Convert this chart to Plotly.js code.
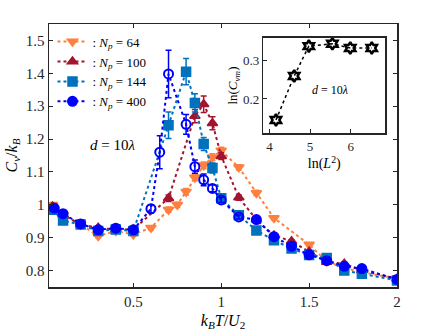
<!DOCTYPE html>
<html>
<head>
<meta charset="utf-8">
<script src="https://cdn.plot.ly/plotly-3.0.1.min.js"></script>
<style>
  html, body { margin: 0; padding: 0; background: #fff; }
  #chart { width: 441px; height: 331px; }
</style>
</head>
<body>
<div id="chart"></div>
<script>
// N_p = 64
const t64 = [0.04, 0.1, 0.2, 0.3, 0.4, 0.5, 0.6, 0.7, 0.75, 0.8, 0.85, 0.9, 0.95, 1.0, 1.1, 1.2, 1.3, 1.5, 1.6, 1.7, 1.8, 2.0];
const c64 = [1.0, 0.97, 0.94, 0.905, 0.92, 0.91, 0.93, 0.985, 1.0, 1.04, 1.083, 1.12, 1.145, 1.165, 1.114, 1.036, 0.96, 0.879, 0.828, 0.808, 0.795, 0.776];
const e64 = [0.005, 0.005, 0.005, 0.005, 0.005, 0.005, 0.006, 0.008, 0.008, 0.01, 0.01, 0.01, 0.01, 0.01, 0.008, 0.008, 0.006, 0.005, 0.005, 0.005, 0.005, 0.005];

// N_p = 100
const t100 = [0.04, 0.1, 0.2, 0.3, 0.4, 0.5, 0.7, 0.85, 0.9, 0.95, 1.0, 1.1, 1.2, 1.3, 1.4, 1.5, 1.6, 1.7, 1.8, 2.0];
const c100 = [0.995, 0.97, 0.94, 0.93, 0.925, 0.925, 1.02, 1.27, 1.306, 1.248, 1.148, 1.022, 0.955, 0.907, 0.889, 0.857, 0.826, 0.821, 0.8, 0.775];
const e100 = [0.005, 0.005, 0.005, 0.005, 0.005, 0.005, 0.01, 0.02, 0.025, 0.02, 0.01, 0.008, 0.006, 0.005, 0.005, 0.005, 0.005, 0.005, 0.005, 0.005];

// N_p = 144
const t144 = [0.04, 0.1, 0.2, 0.3, 0.4, 0.5, 0.7, 0.8, 0.85, 0.9, 0.95, 1.0, 1.1, 1.2, 1.3, 1.4, 1.5, 1.6, 1.7, 1.8, 2.0];
const c144 = [0.985, 0.952, 0.94, 0.92, 0.925, 0.92, 1.242, 1.405, 1.31, 1.185, 1.112, 1.02, 0.968, 0.922, 0.892, 0.867, 0.847, 0.838, 0.8, 0.79, 0.77];
const e144 = [0.005, 0.006, 0.005, 0.005, 0.005, 0.005, 0.04, 0.04, 0.028, 0.02, 0.015, 0.008, 0.006, 0.005, 0.005, 0.005, 0.005, 0.005, 0.005, 0.005, 0.005];

// N_p = 400
const t400 = [0.05, 0.1, 0.2, 0.3, 0.4, 0.5, 0.6, 0.65, 0.7, 0.8, 0.85, 0.9, 0.95, 1.0, 1.1, 1.2, 1.3, 1.4, 1.5, 1.6, 1.7, 1.8, 2.0];
const c400 = [0.99, 0.973, 0.942, 0.924, 0.929, 0.924, 0.988, 1.16, 1.398, 1.245, 1.116, 1.076, 1.05, 1.015, 0.963, 0.955, 0.903, 0.874, 0.848, 0.83, 0.813, 0.806, 0.773];
const e400 = [0.005, 0.005, 0.005, 0.005, 0.005, 0.005, 0.012, 0.05, 0.072, 0.03, 0.02, 0.018, 0.01, 0.008, 0.006, 0.005, 0.005, 0.005, 0.005, 0.005, 0.005, 0.005, 0.005];

// inset
const lnL2 = [4.16, 4.61, 4.97, 5.55, 5.99, 6.52];
const lnCvm = [0.145, 0.26, 0.338, 0.344, 0.333, 0.333];

const serif = '"Liberation Serif", "Times New Roman", serif';

function series(t, c, e, name, color, symbol) {
  return {
    x: t, y: c, name: name,
    type: 'scatter', mode: 'lines+markers',
    line: { color: color, width: 2, dash: 'dot' },
    marker: { color: color, size: 9, symbol: symbol, line: { color: color, width: 1.5 } },
    error_y: { type: 'data', array: e, visible: true, color: color, thickness: 1.5, width: 3 }
  };
}

const s64 = series(t64, c64, e64, ': <i>N</i><sub><i>p</i></sub> = 64', '#FF7F3F', 'triangle-down');
const s100 = series(t100, c100, e100, ': <i>N</i><sub><i>p</i></sub> = 100', '#A2142F', 'triangle-up');
const s144 = series(t144, c144, e144, ': <i>N</i><sub><i>p</i></sub> = 144', '#0072BD', 'square');
const s400 = series(t400, c400, e400, ': <i>N</i><sub><i>p</i></sub> = 400', '#0000FF', 'circle');
// open circles around the peak
s400.marker.symbol = t400.map(t => (t > 0.55 && t < 1.15) ? 'circle-open' : 'circle');
s400.marker.line.width = 2;

const inset = {
  x: lnL2, y: lnCvm, xaxis: 'x2', yaxis: 'y2',
  type: 'scatter', mode: 'lines+markers', showlegend: false,
  line: { color: '#000', width: 1.5, dash: 'dot' },
  marker: { symbol: 'hexagram-open', size: 9, color: '#000', line: { color: '#000', width: 2.5 } }
};

const axisStyle = {
  showline: true, mirror: 'ticks', linecolor: '#262626', linewidth: 1.5,
  ticks: 'inside', ticklen: 4, tickcolor: '#262626', tickwidth: 1,
  showgrid: false, zeroline: false,
  tickfont: { family: serif, size: 15, color: '#262626' }
};

const layout = {
  width: 441, height: 331,
  margin: { l: 49, r: 44, t: 24, b: 44 },
  paper_bgcolor: '#fff', plot_bgcolor: '#fff',
  showlegend: true,
  legend: {
    x: 0.01, y: 0.99, xanchor: 'left', yanchor: 'top',
    bgcolor: 'rgba(0,0,0,0)', tracegroupgap: 0,
    font: { family: serif, size: 13, color: '#000' }
  },
  xaxis: Object.assign({}, axisStyle, {
    range: [0.02, 2], tickvals: [0.5, 1, 1.5, 2], ticktext: ['0.5', '1', '1.5', '2'],
    title: { text: '<i>k</i><sub><i>B</i></sub><i>T</i>/<i>U</i><sub>2</sub>', font: { family: serif, size: 16, color: '#000' }, standoff: 6 }
  }),
  yaxis: Object.assign({}, axisStyle, {
    range: [0.75, 1.55], tickvals: [0.8, 0.9, 1, 1.1, 1.2, 1.3, 1.4, 1.5], ticktext: ['0.8', '0.9', '1', '1.1', '1.2', '1.3', '1.4', '1.5'],
    title: { text: '<i>C</i><sub><i>v</i></sub>/<i>k</i><sub><i>B</i></sub>', font: { family: serif, size: 16, color: '#000' }, standoff: 4 }
  }),
  xaxis2: Object.assign({}, axisStyle, {
    domain: [0.616, 0.966], anchor: 'y2', mirror: true, range: [3.85, 6.85], tickvals: [4, 5, 6],
    tickfont: { family: serif, size: 13, color: '#262626' },
    title: { text: 'ln(<i>L</i><sup>2</sup>)', font: { family: serif, size: 14, color: '#000' }, standoff: 2 }
  }),
  yaxis2: Object.assign({}, axisStyle, {
    domain: [0.584, 0.948], anchor: 'x2', mirror: true, range: [0.11, 0.36], tickvals: [0.2, 0.3],
    tickfont: { family: serif, size: 13, color: '#262626' },
    title: { text: 'ln(<i>C</i><sub><i>vm</i></sub>)', font: { family: serif, size: 13, color: '#000' }, standoff: 2 }
  }),
  annotations: [
    { x: 0.384, y: 1.182, xref: 'x', yref: 'y', showarrow: false,
      text: '<i>d</i> = 10<i>λ</i>', font: { family: serif, size: 15, color: '#000' } },
    { x: 5.49, y: 0.224, xref: 'x2', yref: 'y2', showarrow: false,
      text: '<i>d</i> = 10<i>λ</i>', font: { family: serif, size: 12, color: '#000' } }
  ]
};

Plotly.newPlot('chart', [s64, s100, s144, s400, inset], layout, { displayModeBar: false, staticPlot: true });
</script>
</body>
</html>
